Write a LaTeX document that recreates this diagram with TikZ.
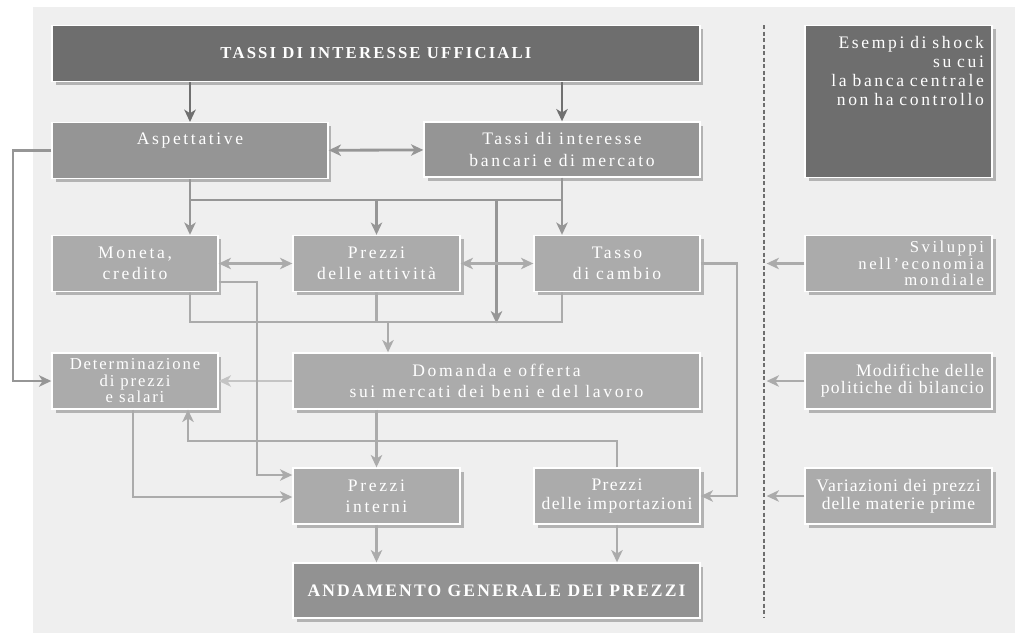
\documentclass[tikz,border=0pt]{standalone}
\usepackage{fontspec}
\setmainfont{Liberation Serif}[LetterSpace=15]
\usetikzlibrary{positioning}
\usetikzlibrary{calc}
\usetikzlibrary{shadows}
\usetikzlibrary{arrows.meta}

\definecolor{panel}{HTML}{EFEFEF}
\definecolor{boxdark}{HTML}{6E6E6E}
\definecolor{boxmid}{HTML}{959595}
\definecolor{boxlight}{HTML}{ABABAB}
\definecolor{boxtotal}{HTML}{929292}
\definecolor{linkdark}{HTML}{707070}
\definecolor{linkmid}{HTML}{969696}
\definecolor{linklight}{HTML}{ABABAB}
\definecolor{linkpale}{HTML}{C4C4C4}

\tikzset{
  box/.style={draw=white, line width=0.8pt, text=white, align=center, inner sep=2pt,
    minimum height=1.12cm, font=\fontsize{10}{12}\selectfont,
    drop shadow={shadow xshift=2pt, shadow yshift=-2pt, opacity=0.25, fill=black}},
  shockbox/.style={box, fill=boxlight, minimum width=3.74cm, text width=3.42cm,
    inner xsep=0.14cm, align=right},
  link/.style={line width=1.6pt, -{Stealth[length=7pt, width=6.5pt, inset=2pt]}},
  bus/.style={line width=1.6pt},
  both/.style={line width=1.6pt, {Stealth[length=7pt, width=6.5pt, inset=2pt]}-{Stealth[length=7pt, width=6.5pt, inset=2pt]}},
  divider/.style={boxdark, line width=0.6pt, dash pattern=on 2.5pt off 1.2pt}
}

\begin{document}
\begin{tikzpicture}[x=0.02cm, y=-0.02cm]
    \useasboundingbox (0,0) rectangle (1015,633);
    \fill[panel] (33,7) rectangle (1015,633);

    \node[box, fill=boxdark, minimum width=12.96cm, font=\fontsize{9.5}{12}\bfseries\addfontfeature{LetterSpace=13}] (ufficiali) at (376,53.5) {TASSI DI INTERESSE UFFICIALI};
    \node[box, fill=boxdark, anchor=north, minimum width=3.74cm, text width=3.42cm, inner xsep=0.16cm, inner ysep=0.18cm,
          align=right, text height=0.27cm, text depth=2.41cm, font=\fontsize{10}{10.8}\selectfont] (esempi) at (898.5,25)
          {Esempi di shock\\su cui\\la banca centrale\\non ha controllo};

    \node[box, fill=boxmid, anchor=north, minimum width=5.52cm, inner ysep=0.18cm, text height=0.24cm, text depth=0.5cm] (aspett) at (190,122) {Aspettative};
    \node[box, fill=boxmid, minimum width=5.52cm, minimum height=1.1cm] (tassi) at (562,149.5) {Tassi di interesse\\bancari e di mercato};

    \node[box, fill=boxlight, minimum width=3.32cm] (moneta) at (135,263.5) {Moneta,\\credito};
    \node[box, fill=boxlight, minimum width=3.34cm] (attivita) at (376.5,263.5) {Prezzi\\delle attività};
    \node[box, fill=boxlight, minimum width=3.32cm] (cambio) at (617,263.5) {Tasso\\di cambio};
    \node[shockbox, font=\fontsize{9.5}{9.3}\selectfont] (sviluppi) at (898.5,263.5) {Sviluppi\\nell’economia\\mondiale};

    \node[box, fill=boxlight, minimum width=3.32cm, font=\fontsize{9.5}{9.4}\addfontfeature{LetterSpace=11}] (determ) at (135,381) {Determinazione\\di prezzi\\e salari};
    \node[box, fill=boxlight, minimum width=8.14cm] (domanda) at (496.5,381) {Domanda e offerta\\sui mercati dei beni e del lavoro};
    \node[shockbox, font=\fontsize{10}{9.8}\addfontfeature{LetterSpace=7}] (modifiche) at (898.5,381) {Modifiche delle\\politiche di bilancio};

    \node[box, fill=boxlight, minimum width=3.34cm] (interni) at (376.5,496) {Prezzi\\interni};
    \node[box, fill=boxlight, minimum width=3.32cm, font=\fontsize{10}{10.5}\addfontfeature{LetterSpace=8}] (importazioni) at (617,496) {Prezzi\\delle importazioni};
    \node[box, fill=boxlight, minimum width=3.74cm, font=\fontsize{10}{10.5}\addfontfeature{LetterSpace=6}] (variazioni) at (898.5,496) {Variazioni dei prezzi\\delle materie prime};

    \node[box, fill=boxtotal, minimum width=8.14cm, minimum height=1.1cm, font=\fontsize{10}{12}\bfseries\addfontfeature{LetterSpace=12}] (andamento) at (496.5,590.5) {ANDAMENTO GENERALE DEI PREZZI};

    \coordinate (divtop) at (764,25);
    \coordinate (divbot) at (764,618);
    \coordinate (upbus) at (190,200);
    \coordinate (lowbus) at (388,322);
    \coordinate (monlane) at (257,282);
    \coordinate (loop) at (13,381);
    \coordinate (detlane) at (133,497);
    \coordinate (implane) at (188,441);
    \coordinate (camlane) at (737,263.5);

    \draw[divider] (divtop) -- (divbot);

    \draw[link, linkdark] (aspett.north |- ufficiali.south) -- (aspett.north);
    \draw[link, linkdark] (tassi.north |- ufficiali.south) -- (tassi.north);
    \draw[both, linkmid] (aspett) -- (tassi);

    \draw[link, linkmid] (aspett.south) -- (aspett.south |- moneta.north);
    \draw[bus, linkmid] (upbus) -- (upbus -| tassi.south);
    \draw[link, linkmid] (attivita.north |- upbus) -- (attivita.north);
    \draw[link, linkmid] (tassi.south) -- (tassi.south |- cambio.north);
    \draw[link, linkmid] (domanda |- upbus) -- ([yshift=-0.8pt]domanda |- lowbus);

    \draw[both, linklight] (moneta) -- (attivita);
    \draw[both, linklight] (attivita) -- (cambio);

    \draw[bus, linklight] (upbus |- moneta.south) -- (upbus |- lowbus) -- (tassi.south |- lowbus) -- (tassi.south |- cambio.south);
    \draw[bus, linklight] (attivita.south) -- (attivita |- lowbus);
    \draw[link, linklight] (lowbus) -- (lowbus |- domanda.north);

    \draw[link, linkmid] (aspett.west) -- (aspett.west -| loop) -- (loop) -- (determ.west);
    \draw[link, linkpale] (domanda) -- (determ);
    \draw[link, linklight] (moneta.east |- monlane) -- (monlane) -- (monlane |- 0,475) -- (interni.west |- 0,475);
    \draw[link, linklight] (determ.south -| detlane) -- (detlane) -- (interni.west |- detlane);
    \draw[link, linklight] (importazioni.north) -- (importazioni.north |- implane) -- (implane) -- (implane |- determ.south);
    \draw[link, linklight] (interni.north |- domanda.south) -- (interni.north);
    \draw[link, linklight, line width=1.3pt] (cambio.east) -- (camlane) -- (camlane |- importazioni.east) -- (importazioni.east);

    \draw[link, linklight] (interni.south) -- (interni.south |- andamento.north);
    \draw[link, linklight] (importazioni.south) -- (importazioni.south |- andamento.north);

    \draw[link, linklight, shorten >=1.5pt] (sviluppi.west) -- (sviluppi.west -| divtop);
    \draw[link, linklight, shorten >=1.5pt] (modifiche.west) -- (modifiche.west -| divtop);
    \draw[link, linklight, shorten >=1.5pt] (variazioni.west) -- (variazioni.west -| divtop);
\end{tikzpicture}
\end{document}
